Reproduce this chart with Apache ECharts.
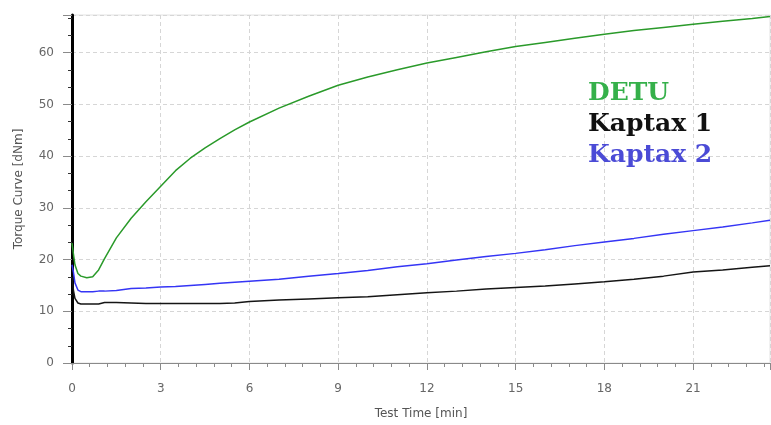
<!DOCTYPE html>
<html>
<head>
<meta charset="utf-8">
<script src="https://cdn.jsdelivr.net/npm/echarts@6/dist/echarts.min.js"></script>
<style>html,body{margin:0;padding:0;background:#fff}#c{width:771px;height:425px}</style>
</head>
<body>
<div id="c"></div>
<script>
var times = [0, 0.05, 0.1, 0.2, 0.3, 0.5, 0.7, 0.9, 1.1, 1.5, 2, 2.5, 3, 3.5, 4, 4.5, 5, 5.5, 6, 7, 8, 9, 10, 11, 12, 13, 14, 15, 16, 17, 18, 19, 20, 21, 22, 23, 23.6];
var detu = [23.2, 21, 19, 17.3, 16.8, 16.5, 16.7, 18, 20.2, 24.2, 28, 31.2, 34.2, 37.2, 39.6, 41.6, 43.4, 45.1, 46.6, 49.3, 51.6, 53.7, 55.3, 56.7, 58.0, 59.1, 60.2, 61.2, 62.0, 62.8, 63.6, 64.3, 64.9, 65.5, 66.1, 66.6, 67.0];
var kaptax1 = [16.5, 14, 12.5, 11.6, 11.4, 11.4, 11.4, 11.4, 11.7, 11.7, 11.6, 11.5, 11.5, 11.5, 11.5, 11.5, 11.5, 11.6, 11.9, 12.2, 12.4, 12.6, 12.8, 13.2, 13.6, 13.9, 14.3, 14.6, 14.9, 15.3, 15.7, 16.2, 16.8, 17.6, 18.0, 18.5, 18.8];
var kaptax2 = [19, 17.5, 15.5, 14.1, 13.8, 13.8, 13.8, 13.9, 13.9, 14.0, 14.4, 14.5, 14.7, 14.8, 15.0, 15.2, 15.4, 15.6, 15.8, 16.2, 16.8, 17.3, 17.9, 18.6, 19.2, 19.9, 20.6, 21.2, 21.9, 22.7, 23.4, 24.1, 24.9, 25.6, 26.3, 27.1, 27.6];
var seriesNames = ['DETU', 'Kaptax 1', 'Kaptax 2'];
var lineColors = ['#2a9a2a', '#151515', '#3535f5'];
var legendColors = ['#35b04a', '#111111', '#4b4bd6'];

function pairs(v) { return times.map(function (t, i) { return [t, v[i]]; }); }
var values = [detu, kaptax1, kaptax2];

var chart = echarts.init(document.getElementById('c'), null, {renderer: 'canvas'});
chart.setOption({
  animation: false,
  backgroundColor: '#fff',
  grid: {left: 72, right: 1, top: 15, bottom: 60, show: true, borderColor: '#e2e2e2', borderWidth: 1},
  legend: {
    orient: 'vertical', left: 578, top: 76, itemWidth: 0, itemHeight: 0, itemGap: 6, icon: 'none',
    selectedMode: false,
    textStyle: {fontFamily: 'DejaVu Serif', fontWeight: 'bold', fontSize: 25, padding: 0},
    data: seriesNames.map(function (n, i) { return {name: n, textStyle: {color: legendColors[i]}}; })
  },
  xAxis: {
    type: 'value', min: 0, max: 23.6, interval: 3,
    name: 'Test Time [min]', nameLocation: 'middle', nameGap: 45,
    nameTextStyle: {fontFamily: 'DejaVu Sans', fontSize: 12, color: '#555'},
    axisLine: {show: true, onZero: false, lineStyle: {color: '#8a8a8a', width: 1}},
    axisTick: {show: true, length: 7, lineStyle: {color: '#8a8a8a'}},
    minorTick: {show: true, splitNumber: 5, length: 4, lineStyle: {color: '#8a8a8a'}},
    axisLabel: {fontFamily: 'DejaVu Sans', fontSize: 12, color: '#666', margin: 20, showMaxLabel: false},
    splitLine: {show: true, lineStyle: {color: '#d6d6d6', type: [4, 3]}}
  },
  yAxis: {
    type: 'value', min: 0, max: 67.3, interval: 10,
    name: 'Torque Curve [dNm]', nameLocation: 'middle', nameGap: 47,
    nameTextStyle: {fontFamily: 'DejaVu Sans', fontSize: 12, color: '#555'},
    axisLine: {show: true, lineStyle: {color: '#000', width: 3}},
    axisTick: {show: true, length: 9, lineStyle: {color: '#8a8a8a'}},
    minorTick: {show: true, splitNumber: 3, length: 4, lineStyle: {color: '#333'}},
    axisLabel: {fontFamily: 'DejaVu Sans', fontSize: 12, color: '#666', margin: 18, showMaxLabel: false},
    splitLine: {show: true, lineStyle: {color: '#d6d6d6', type: [4, 3]}}
  },
  series: seriesNames.map(function (n, i) {
    return {
      name: n, type: 'line', data: pairs(values[i]), showSymbol: false, smooth: false,
      lineStyle: {color: lineColors[i], width: 1.5}, itemStyle: {color: lineColors[i]}, z: 3 - i
    };
  })
});
</script>
</body>
</html>
